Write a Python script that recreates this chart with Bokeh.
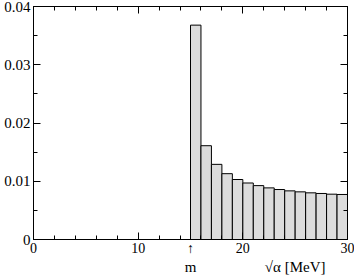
from bokeh.plotting import figure
from bokeh.models import Range1d, LinearAxis, FixedTicker, CustomJSTickFormatter, ColumnDataSource
from bokeh.embed import file_html
from bokeh.resources import INLINE

bin_left = [15, 16, 17, 18, 19, 20, 21, 22, 23, 24, 25, 26, 27, 28, 29]
bin_value = [0.0368, 0.0161, 0.0129, 0.0113, 0.0103, 0.0097, 0.00925, 0.00886,
             0.00858, 0.00835, 0.00818, 0.00801, 0.0079, 0.00778, 0.00773]
x_major = [0, 10, 20, 30]
x_minor = [2, 4, 6, 8, 12, 14, 16, 18, 22, 24, 26, 28]
y_major = [0, 0.01, 0.02, 0.03, 0.04]
y_minor = [0.005, 0.015, 0.025, 0.035]
threshold = 15
threshold_label = "m"
x_title = "√α [MeV]"
x_title_pos = 25

FONT = "Liberation Serif"

p = figure(width=354, height=277, output_backend="svg", toolbar_location=None,
           x_range=Range1d(0, 30), y_range=Range1d(0, 0.04),
           x_axis_location=None, y_axis_location=None,
           min_border_left=33, min_border_right=7, min_border_top=6, min_border_bottom=36)
p.grid.visible = False
p.outline_line_color = "black"
p.background_fill_color = "white"
p.border_fill_color = "white"

src = ColumnDataSource(dict(x=[b + 0.5 for b in bin_left], top=bin_value))
p.vbar(x="x", top="top", width=1, bottom=0, source=src,
       fill_color="#dcdcdc", line_color="black", line_width=1)

fmt = CustomJSTickFormatter(code="return tick.toFixed(2).replace(/\\.?0+$/, '');")

def style(ax, labels=True):
    ax.axis_line_color = "black"
    ax.major_tick_in = 7
    ax.major_tick_out = 0
    ax.minor_tick_in = 4
    ax.minor_tick_out = 0
    ax.major_tick_line_color = "black"
    ax.minor_tick_line_color = "black"
    ax.major_label_text_font = FONT
    ax.major_label_text_font_size = "15px"
    ax.major_label_text_color = "black"
    ax.major_label_standoff = 3
    if not labels:
        ax.major_label_text_font_size = "0px"
        ax.major_label_standoff = 0
        ax.major_label_text_alpha = 0

# bottom axis (with arrow marking threshold at x=15)
xb = LinearAxis(ticker=FixedTicker(ticks=x_major + [threshold], minor_ticks=x_minor),
                major_label_overrides={threshold: "↑"})
style(xb)
xb.major_label_text_font_size = "14px"
xb.major_label_standoff = 1
p.add_layout(xb, "below")

# second row below: threshold label and axis title
xb2 = LinearAxis(ticker=FixedTicker(ticks=[threshold, x_title_pos], minor_ticks=[]),
                 major_label_overrides={threshold: threshold_label, x_title_pos: x_title})
xb2.axis_line_color = None
xb2.major_tick_line_color = None
xb2.minor_tick_line_color = None
xb2.major_tick_in = 0
xb2.major_tick_out = 0
xb2.major_label_standoff = 0
xb2.major_label_text_font = FONT
xb2.major_label_text_font_size = "15px"
xb2.major_label_text_color = "black"
p.add_layout(xb2, "below")

xa = LinearAxis(ticker=FixedTicker(ticks=x_major, minor_ticks=x_minor))
style(xa, labels=False)
p.add_layout(xa, "above")
yl = LinearAxis(ticker=FixedTicker(ticks=y_major, minor_ticks=y_minor), formatter=fmt)
style(yl)
p.add_layout(yl, "left")
yr = LinearAxis(ticker=FixedTicker(ticks=y_major, minor_ticks=y_minor), formatter=fmt)
style(yr, labels=False)
p.add_layout(yr, "right")

open("out.html", "w").write(file_html(p, INLINE))
